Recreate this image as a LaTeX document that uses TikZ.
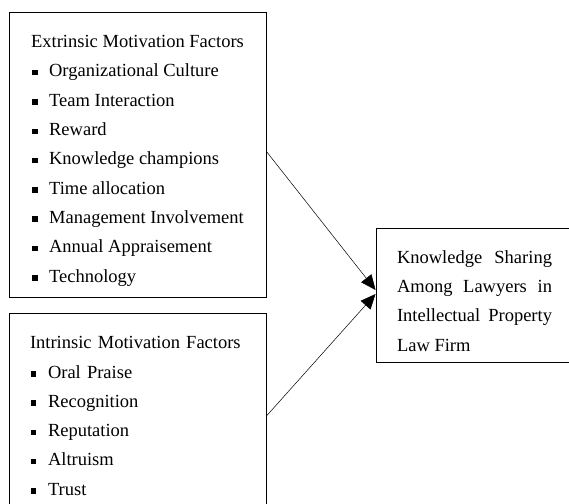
\documentclass[tikz,border=0pt]{standalone}
\usepackage{fontspec}
\setmainfont{Liberation Serif}
\usetikzlibrary{arrows.meta}
\newcommand{\sqbul}{\makebox[18pt][l]{\hspace{1pt}\rule[1.5pt]{5.5pt}{5.5pt}}}
\tikzset{
  factbox/.style={draw, line width=0.9pt, rectangle, inner xsep=21pt, inner ysep=0pt,
                  font=\fontsize{18.5pt}{29.3pt}\selectfont},
  arr/.style={-{Triangle[length=15pt,width=13pt]}, line width=0.5pt}
}
\begin{document}
\begin{tikzpicture}[x=1pt,y=-1pt]
  \useasboundingbox (0,0) rectangle (569,503);
  \node[factbox, minimum width=257pt, minimum height=285pt, align=left] (ext) at (137.5,154.5)
    {\rule{0pt}{24.6pt}Extrinsic Motivation Factors\\
     \sqbul Organizational Culture\\
     \sqbul Team Interaction\\
     \sqbul Reward\\
     \sqbul Knowledge champions\\
     \sqbul Time allocation\\
     \sqbul Management Involvement\\
     \sqbul Annual Appraisement\\
     \sqbul Technology};
  \node[factbox, minimum width=257pt, minimum height=206pt, text width=215pt, align=left] (int) at (137.5,416)
    {Intrinsic Motivation Factors\\
     \sqbul Oral Praise\\
     \sqbul Recognition\\
     \sqbul Reputation\\
     \sqbul Altruism\\
     \sqbul Trust};
  \node[factbox, minimum width=197pt, minimum height=134pt, text width=155pt, align=justify] (ks) at (474.5,295)
    {\rule{0pt}{24.5pt}Knowledge Sharing Among Lawyers in Intellectual Property Law Firm};

  \draw[arr] ([yshift=3pt]ext.east) -- ([yshift=5pt]ks.west);
  \draw[arr] (int.east) -- ([yshift=1pt]ks.west);
\end{tikzpicture}
\end{document}
